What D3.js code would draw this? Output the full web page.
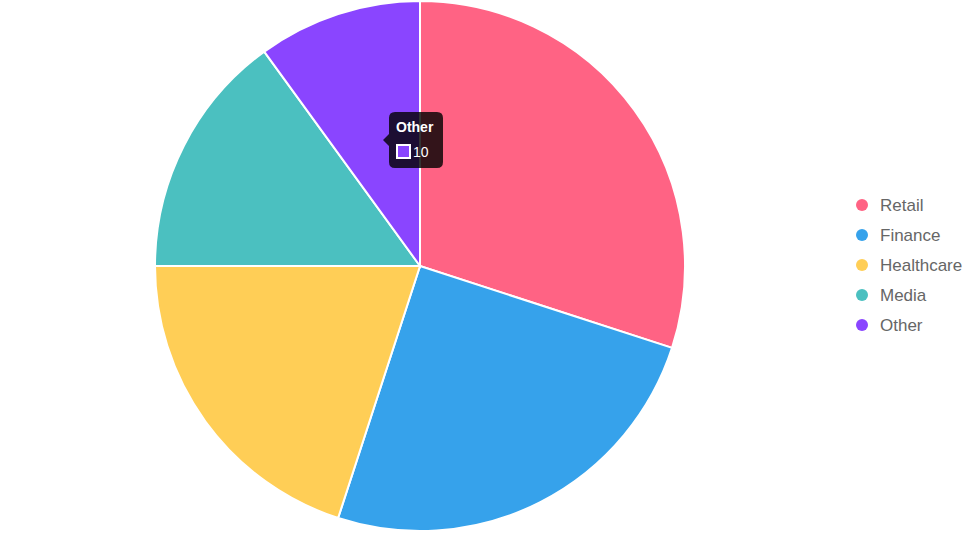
<!DOCTYPE html>
<html lang="en">
<head>
    <meta charset="UTF-8">
    <title>Sectors</title>
    <script src="https://d3js.org/d3.v7.min.js"></script>
    <style>
        body { margin: 0; background: #fff; }
        svg { display: block; font-family: "Liberation Sans", Arial, Helvetica, sans-serif; }
        .legend text { fill: #666; font-size: 17px; }
    </style>
</head>
<body>
<script>
    const width = 978;
    const height = 533;

    const labels = ["Retail", "Finance", "Healthcare", "Media", "Other"];
    const values = [30, 25, 20, 15, 10];
    const colors = ["#FF6384", "#36A2EB", "#FFCE56", "#4BC0C0", "#8A45FF"];

    const svg = d3.select("body").append("svg")
            .attr("width", width).attr("height", height);

    const cx = 420, cy = 266, radius = 265;

    const color = d3.scaleOrdinal().domain(labels).range(colors);

    const pie = d3.pie().sort(null).value(d => d.value);
    const arc = d3.arc().innerRadius(0).outerRadius(radius);

    const rows = labels.map((l, i) => ({label: l, value: values[i]}));

    const g = svg.append("g").attr("transform", `translate(${cx},${cy})`);
    g.selectAll("path.slice")
        .data(pie(rows))
        .enter()
        .append("path")
        .attr("class", "slice")
        .attr("d", arc)
        .attr("fill", d => color(d.data.label))
        .attr("stroke", "#fff")
        .attr("stroke-width", 2);

    // legend
    const legend = svg.append("g").attr("class", "legend")
        .attr("transform", "translate(862,205)");
    const item = legend.selectAll("g")
        .data(labels)
        .enter()
        .append("g")
        .attr("transform", (d, i) => `translate(0,${i * 30})`);
    item.append("circle").attr("r", 6).attr("fill", d => color(d));
    item.append("text").attr("x", 18).attr("dy", "0.35em").text(d => d);

    // tooltip for "Other"
    const tip = svg.append("g").attr("transform", "translate(389,112)");
    tip.append("path")
        .attr("d", "M6,0 H48 Q54,0 54,6 V50 Q54,56 48,56 H6 Q0,56 0,50 V34 L-6,28 L0,22 V6 Q0,0 6,0 Z")
        .attr("fill", "rgba(0,0,0,0.8)");
    tip.append("text")
        .attr("x", 7).attr("y", 20)
        .attr("fill", "#fff").attr("font-size", 14).attr("font-weight", "bold")
        .text(labels[4]);
    tip.append("rect")
        .attr("x", 8).attr("y", 33).attr("width", 13).attr("height", 13)
        .attr("fill", color(labels[4])).attr("stroke", "#fff").attr("stroke-width", 2);
    tip.append("text")
        .attr("x", 24).attr("y", 45)
        .attr("fill", "#fff").attr("font-size", 14)
        .text(values[4]);
</script>
</body>
</html>
